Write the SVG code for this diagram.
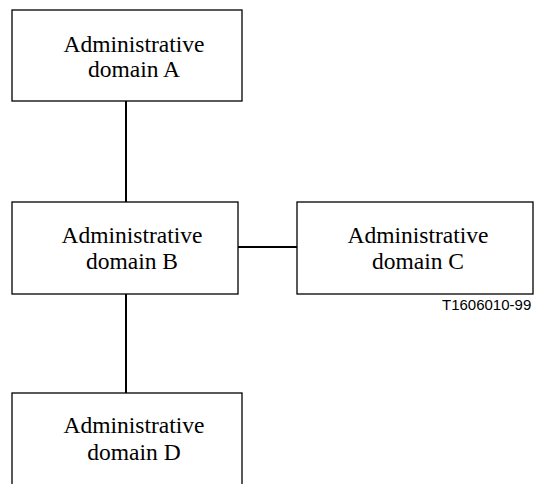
<svg xmlns="http://www.w3.org/2000/svg" width="534" height="484" viewBox="0 0 534 484">
<style>
.box{fill:#fff;stroke:#000;stroke-width:1.3}
.t{font-family:"Liberation Serif","Times New Roman",serif;font-size:23.5px;fill:#000;text-anchor:middle}
.c{stroke:#000;stroke-width:2;fill:none}
.lbl{font-family:"Liberation Sans",Arial,sans-serif;font-size:15px;fill:#000}
</style>
<rect width="534" height="484" fill="#fff"/>
<g id="connectors">
<line class="c" x1="126" y1="101" x2="126" y2="202"/>
<line class="c" x1="126" y1="294" x2="126" y2="393"/>
<line class="c" x1="238" y1="247" x2="297" y2="247"/>
</g>
<g id="nodeA">
<rect class="box" x="12" y="10" width="230" height="91"/>
<text class="t" x="134" y="52">Administrative</text>
<text class="t" x="134" y="77">domain A</text>
</g>
<g id="nodeB">
<rect class="box" x="12" y="202" width="226" height="92"/>
<text class="t" x="132" y="243">Administrative</text>
<text class="t" x="132" y="269">domain B</text>
</g>
<g id="nodeC">
<rect class="box" x="297" y="202" width="236" height="92"/>
<text class="t" x="418" y="243">Administrative</text>
<text class="t" x="418" y="269">domain C</text>
</g>
<g id="nodeD">
<rect class="box" x="12" y="393" width="230" height="100"/>
<text class="t" x="134" y="433">Administrative</text>
<text class="t" x="134" y="460">domain D</text>
</g>
<text class="lbl" x="442" y="310">T1606010-99</text>
</svg>
